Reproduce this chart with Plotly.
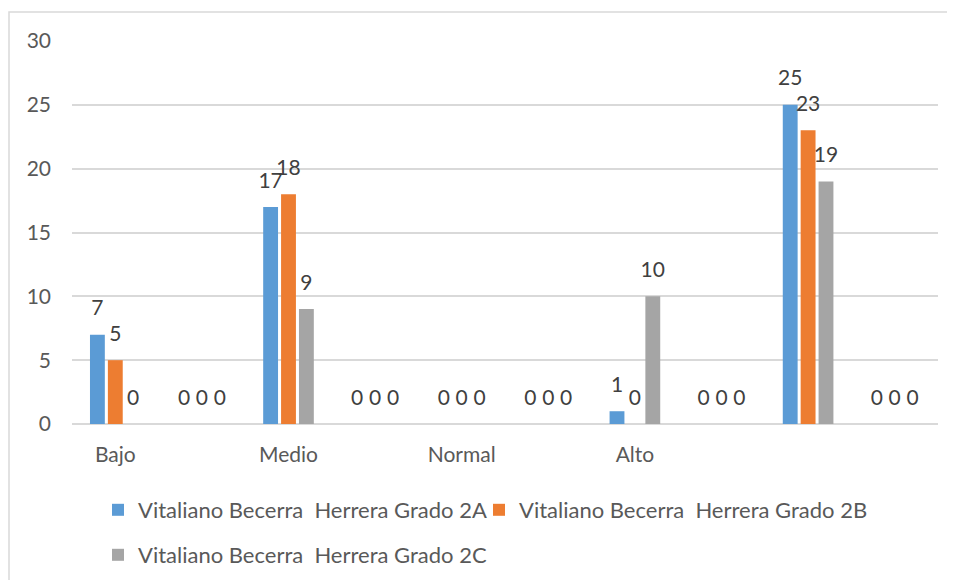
import plotly.graph_objects as go

categories = ["Bajo", "", "Medio", "", "Normal", "", "Alto", "", "", ""]
series_names = [
    "Vitaliano Becerra  Herrera Grado 2A",
    "Vitaliano Becerra  Herrera Grado 2B",
    "Vitaliano Becerra  Herrera Grado 2C",
]
values_2a = [7, 0, 17, 0, 0, 0, 1, 0, 25, 0]
values_2b = [5, 0, 18, 0, 0, 0, 0, 0, 23, 0]
values_2c = [0, 0, 9, 0, 0, 0, 10, 0, 19, 0]
y_ticks = [0, 5, 10, 15, 20, 25, 30]

colors = ["#5B9BD5", "#ED7D31", "#A5A5A5"]
FONT = "Lato"
TXT = "#595959"
GRID = "#D9D9D9"
FS = 21
LFS = 22

# page has an 8px body margin, so the figure is drawn 8px in from the window edge
OFF = 8
W, H = 955 - OFF, 580 - OFF
L, R, T, B = 72 - OFF, 17, 41 - OFF, 156
pw, ph = W - L - R, H - T - B

x = list(range(len(categories)))
fig = go.Figure()
all_vals = [values_2a, values_2b, values_2c]
legends = ["legend", "legend3", "legend2"]
for i, (name, vals) in enumerate(zip(series_names, all_vals)):
    fig.add_trace(go.Bar(
        x=x, y=vals, name=name, marker_color=colors[i], marker_line_width=0,
        offsetgroup=str(i), legend=legends[i], hoverinfo="skip",
    ))
for i, (name, vals) in enumerate(zip(series_names, all_vals)):
    fig.add_trace(go.Scatter(
        x=x, y=vals, mode="markers+text", text=[str(v) for v in vals],
        textposition="top center", textfont=dict(family=FONT, size=FS, color="#404040"),
        marker=dict(size=21, opacity=0), offsetgroup=str(i),
        showlegend=False, hoverinfo="skip", cliponaxis=False,
    ))

# outer frame (left and top edges of the chart area)
fx0 = (1 - L) / pw
fy0 = (H - B - 4) / ph
fig.add_shape(type="path", xref="paper", yref="paper",
              path=f"M {fx0} -0.6 L {fx0} {fy0} L 1.1 {fy0}",
              line=dict(color=GRID, width=1.5))


def leg(px, py):
    return dict(
        orientation="h", xref="container", yref="container",
        x=(px - OFF) / W, y=1 - (py - OFF) / H, xanchor="left", yanchor="top",
        font=dict(family=FONT, size=LFS, color=TXT), bgcolor="rgba(0,0,0,0)",
    )


fig.update_layout(
    width=W, height=H,
    margin=dict(l=L, r=R, t=T, b=B),
    paper_bgcolor="white", plot_bgcolor="white",
    barmode="group", bargap=0.38, bargroupgap=0.17,
    scattermode="group", scattergap=0.38,
    font=dict(family=FONT, size=FS, color=TXT),
    xaxis=dict(
        range=[-0.5, len(categories) - 0.5], tickvals=x, ticktext=categories,
        showgrid=False, zeroline=False, showline=False, ticks="",
        ticklabelstandoff=16, tickfont=dict(size=FS, color=TXT),
    ),
    yaxis=dict(
        range=[0, 30], tickvals=y_ticks, showgrid=True, gridcolor=GRID, gridwidth=1.5,
        zeroline=True, zerolinecolor=GRID, zerolinewidth=1.5, showline=False,
        ticks="", ticklabelstandoff=20, tickfont=dict(size=FS, color=TXT),
    ),
    legend=leg(98, 489),
    legend3=leg(479, 489),
    legend2=leg(98, 534),
)

fig.write_html("out.html")
